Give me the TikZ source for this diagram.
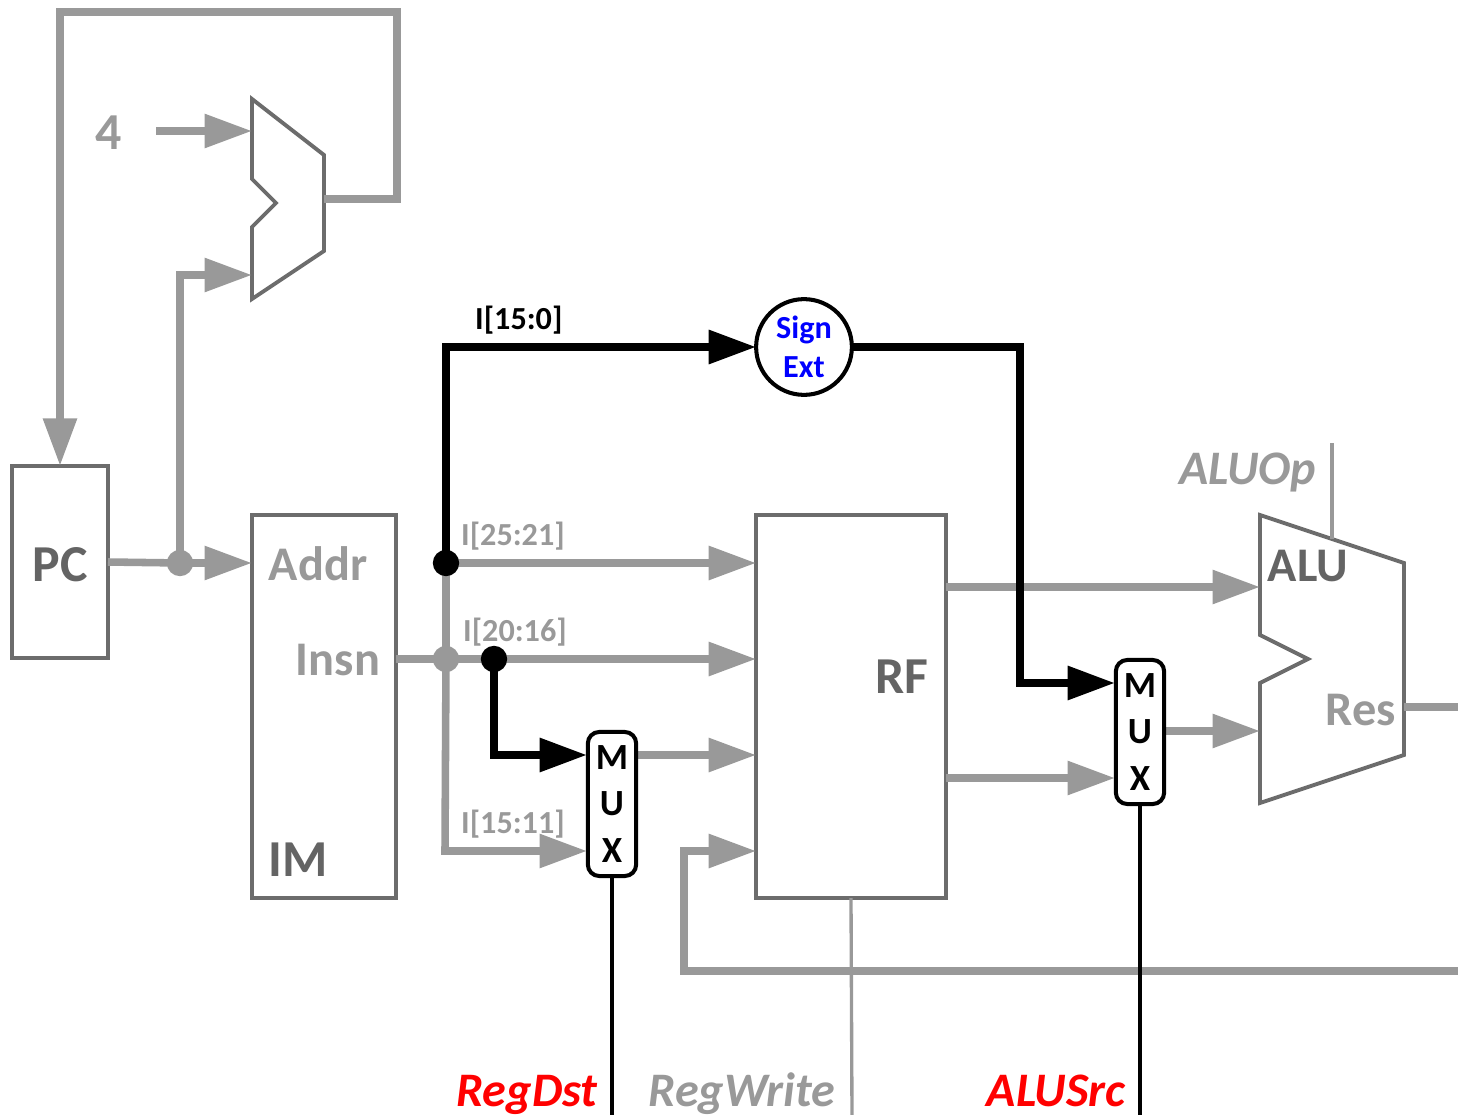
\documentclass[tikz,border=0pt]{standalone}
\usepackage{fontspec}
\setmainfont{Carlito}
\usepackage{tikz}
\usetikzlibrary{arrows.meta, positioning}
\definecolor{wiregray}{RGB}{153,153,153}
\definecolor{boxgray}{RGB}{108,108,108}
\definecolor{labelgray}{RGB}{100,100,100}
\tikzset{
  wire/.style={line width=4.3pt, wiregray, -{Triangle[length=27pt,width=18.5pt]}},
  wireplain/.style={line width=4.3pt, wiregray},
  hotwire/.style={line width=4.5pt, black, -{Triangle[length=27pt,width=18.5pt]}},
  ctrl/.style={line width=2.3pt, black},
  ctrlgray/.style={line width=1.9pt, wiregray},
  unitbox/.style={draw=boxgray, line width=2.2pt, fill=white, inner sep=0pt, outer sep=0pt},
  muxbox/.style={draw=black, line width=2.3pt, fill=white, rounded corners=6.5pt, minimum width=27.5pt, minimum height=82pt, inner sep=0pt, outer sep=0pt, align=center, font=\fontsize{21}{26.2}\selectfont\bfseries},
  bigtext/.style={font=\fontsize{29.5}{32}\selectfont\bfseries, labelgray},
  alutext/.style={font=\fontsize{27.5}{30}\selectfont\bfseries, labelgray},
  graytext/.style={font=\fontsize{27.5}{30}\selectfont\bfseries, wiregray},
  tinytext/.style={font=\fontsize{18.3}{20}\selectfont\bfseries, wiregray},
  ctrltext/.style={font=\fontsize{27.4}{30}\selectfont\bfseries\itshape, anchor=base, inner sep=0pt, outer sep=0pt},
  graydot/.style={circle, fill=wiregray, minimum size=15pt, inner sep=0pt},
  blackdot/.style={circle, fill=black, minimum size=15pt, inner sep=0pt},
}
\begin{document}
\begin{tikzpicture}[x=0.02cm, y=-0.02cm]
  \useasboundingbox (0,0) rectangle (1458,1115);

  % PC, memory, register file
  \node[unitbox, minimum width=54.5pt, minimum height=109.5pt] (pc) at (60,562) {};
  \node[bigtext] (pclabel) at (60,565) {PC};
  \node[unitbox, minimum width=82pt, minimum height=218pt] (im) at (324,706.5) {};
  \node[graytext] (addrlabel) at (318,564) {Addr};
  \node[graytext] (insnlabel) at (338,660) {Insn};
  \node[bigtext] (imlabel) at (298,860) {IM};
  \node[unitbox, minimum width=108pt, minimum height=218pt] (rf) at (851,706.5) {};
  \node[bigtext] (rflabel) at (902,677) {RF};

  % Adder
  \draw[draw=boxgray, line width=2.2pt, fill=white] (252,99) -- (324,155) -- (324,251) -- (252,299) -- (252,227) -- (276,203) -- (252,179) -- cycle;
  \coordinate (addout) at (324,199);
  \coordinate (addin1) at (252,131);
  \coordinate (addin2) at (252,275);
  \node[graytext, font=\fontsize{29.5}{32}\selectfont\bfseries] (four) at (109,133) {4};

  % ALU
  \draw[draw=boxgray, line width=2.2pt, fill=white] (1260,515) -- (1404,563) -- (1404,755) -- (1260,803) -- (1260,683) -- (1308,659) -- (1260,635) -- cycle;
  \node[alutext] (alulabel) at (1308,566) {ALU};
  \node[graytext] (reslabel) at (1361,710) {Res};
  \coordinate (aluin1) at (1260,587);
  \coordinate (aluin2) at (1260,731);
  \node[ctrltext, wiregray] (aluop) at (1248,484) {ALUOp};

  % Gray wires
  \coordinate (pcdot) at (180,563);
  \draw[wireplain] (108,562) -- (pcdot);
  \draw[wire] (pcdot) -- (im.west |- pcdot);
  \draw[wire] (pcdot) -- (180,275) -- (addin2);
  \draw[wire] (156,131) -- (addin1);
  \draw[wire] (addout) -- (397,199) -- (397,12) -- (60,12) -- (pc.north);
  \node[graydot] at (pcdot) {};

  \coordinate (insdot) at (446,659);
  \draw[wire] (im.east |- insdot) -- (rf.west |- insdot);
  \draw[wireplain] (446,563) -- (insdot);
  \draw[wire] (insdot) -- (445,851) -- (587,851);
  \draw[wire] (446,563) -- (rf.west |- 0,563);
  \node[graydot] at (insdot) {};

  \draw[wire] (946,587) -- (aluin1);
  \draw[wire] (946,778) -- (1115,778);
  \draw[wire] (1165,731) -- (aluin2);
  \draw[wire] (637,755) -- (rf.west |- 0,755);
  \draw[wire] (1458,971) -- (684,971) -- (684,851) -- (rf.west |- 0,851);
  \draw[wireplain] (1404,707) -- (1458,707);

  % Control lines
  \draw[ctrlgray] (1332,443) -- (1332,539);
  \draw[ctrlgray] (rf.south) -- (852,1115);

  % Black wires
  \coordinate (immdot) at (446,563);
  \coordinate (rtdot) at (494,659);
  \node[draw=black, line width=2.3pt, circle, fill=white, minimum size=54.5pt, inner sep=0pt, outer sep=0pt, align=center, font=\fontsize{18.3}{22.3}\selectfont\bfseries, text=blue] (signext) at (804,347) {Sign\\Ext};
  \draw[hotwire] (immdot) -- (446,347) -- (signext.west);
  \draw[hotwire] (signext.east) -- (1020,347) -- (1020,683) -- (1115,683);
  \draw[hotwire] (rtdot) -- (494,755) -- (587,755);
  \node[blackdot] at (immdot) {};
  \node[blackdot] at (rtdot) {};

  % Muxes
  \node[muxbox] (mux1) at (612,804) {M\\U\\X};
  \node[muxbox] (mux2) at (1140,732) {M\\U\\X};
  \draw[ctrl] (mux1.south) -- (612,1115);
  \draw[ctrl] (mux2.south) -- (1140,1115);

  % Labels
  \node[font=\fontsize{18.3}{20}\selectfont\bfseries, anchor=west] (immlabel) at (469,320) {I[15:0]};
  \node[tinytext, anchor=west] (rslabel) at (455,536) {I[25:21]};
  \node[tinytext, anchor=west] (rtlabel) at (457,632) {I[20:16]};
  \node[tinytext, anchor=west] (rdlabel) at (455,824) {I[15:11]};
  \node[ctrltext, red] (regdst) at (527,1106) {RegDst};
  \node[ctrltext, wiregray] (regwrite) at (742,1106) {RegWrite};
  \node[ctrltext, red] (alusrc) at (1056,1106) {ALUSrc};
\end{tikzpicture}
\end{document}
